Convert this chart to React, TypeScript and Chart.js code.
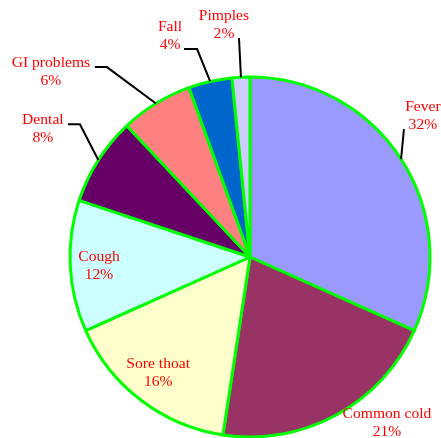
import React, { useEffect, useRef } from "react";
import { Chart, registerables } from "chart.js";

Chart.register(...registerables);

const categories = ["Fever", "Common cold", "Sore thoat", "Cough", "Dental", "GI problems", "Fall", "Pimples"];
const values = [31.7, 20.7, 15.9, 11.8, 7.9, 6.5, 3.9, 1.6];
const pctLabels = ["32%", "21%", "16%", "12%", "8%", "6%", "4%", "2%"];
const colors = ["#9999ff", "#993366", "#ffffcc", "#ccffff", "#660066", "#ff8080", "#0066cc", "#ccccff"];

// label placement styles (radius factor, angle offset in deg, leader tail, text offset)
const placements = [
  { lr: 1.112, da: -6.8, leader: true, tail: 0, tx: 19, ty: -18 },
  { lr: 1.174, da: -11.8, leader: false, tail: 0, tx: 0, ty: 0 },
  { lr: 0.801, da: 2.3, leader: false, tail: 0, tx: 0, ty: 0 },
  { lr: 0.839, da: 1.4, leader: false, tail: 0, tx: 0, ty: 0 },
  { lr: 1.199, da: 5.4, leader: true, tail: -12, tx: -25, ty: 0 },
  { lr: 1.321, da: -5.5, leader: true, tail: -12, tx: -44, ty: 0 },
  { lr: 1.192, da: -1.5, leader: true, tail: -13, tx: -14, ty: -18 },
  { lr: 1.218, da: 0, leader: true, tail: 0, tx: -15, ty: -18 },
];

const labelPlugin = {
  id: "pieLabels",
  afterDatasetsDraw(chart: any) {
    const ctx = chart.ctx;
    const meta = chart.getDatasetMeta(0);
    ctx.save();
    meta.data.forEach((arc: any, i: number) => {
      const { x, y, startAngle, endAngle, outerRadius } = arc.getProps(
        ["x", "y", "startAngle", "endAngle", "outerRadius"],
        true
      );
      const R = outerRadius;
      const mid = (startAngle + endAngle) / 2;
      const p = placements[i];
      const th = mid + (p.da * Math.PI) / 180;
      const ax = x + p.lr * R * Math.cos(th);
      const ay = y + p.lr * R * Math.sin(th);
      let tx = ax + p.tx;
      let ty = ay + p.ty;
      if (p.leader) {
        ctx.beginPath();
        ctx.strokeStyle = "#000000";
        ctx.lineWidth = 2;
        ctx.moveTo(x + R * Math.cos(mid), y + R * Math.sin(mid));
        ctx.lineTo(ax, ay);
        if (p.tail !== 0) ctx.lineTo(ax + p.tail, ay);
        ctx.stroke();
        tx = ax + p.tail + p.tx;
        ty = ay + p.ty;
      }
      ctx.fillStyle = "#ff0000";
      ctx.font = '15.6px "Liberation Serif", "Times New Roman", serif';
      ctx.textAlign = "center";
      ctx.textBaseline = "alphabetic";
      ctx.fillText(categories[i], tx, ty);
      ctx.fillText(pctLabels[i], tx, ty + 18);
    });
    ctx.restore();
  },
};

export default function App() {
  const ref = useRef<HTMLCanvasElement | null>(null);
  useEffect(() => {
    if (!ref.current) return;
    const chart = new Chart(ref.current, {
      type: "pie",
      data: {
        labels: categories,
        datasets: [
          {
            data: values,
            backgroundColor: colors,
            borderColor: "#00ff00",
            borderWidth: 3,
          },
        ],
      },
      options: {
        responsive: false,
        animation: false,
        radius: 180,
        layout: { padding: { left: 59, right: 0, top: 76, bottom: 0 } },
        plugins: {
          legend: { display: false },
          tooltip: { enabled: false },
          title: { display: false },
        },
      },
      plugins: [labelPlugin],
    } as any);
    return () => chart.destroy();
  }, []);
  return (
    <div style={{ position: "fixed", left: 0, top: 0, width: 441, height: 438, background: "#ffffff" }}>
      <canvas ref={ref} width={441} height={438} style={{ display: "block" }} />
    </div>
  );
}
